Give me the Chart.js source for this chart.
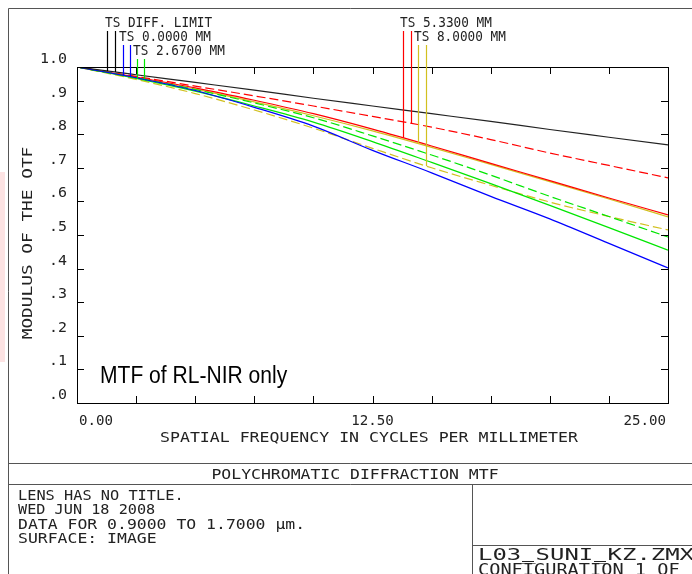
<!DOCTYPE html>
<html>
<head>
<meta charset="utf-8">
<script src="https://cdn.jsdelivr.net/npm/chart.js@4.4.1/dist/chart.umd.min.js"></script>
<style>
html, body { margin: 0; padding: 0; background: #fff; }
canvas { display: block; }
</style>
</head>
<body>
<canvas id="miGrafico" width="692" height="574"></canvas>
<script>
// Datos (frecuencia espacial en ciclos/mm)
const frecuencias = [0, 2.5, 5, 7.5, 10, 12.5, 15, 17.5, 20, 22.5, 25];

const limiteDifraccion = [1.0, 0.977, 0.954, 0.931, 0.907, 0.884, 0.861, 0.838, 0.814, 0.791, 0.768];
const campo0 = [1.0, 0.968, 0.930, 0.880, 0.824, 0.752, 0.685, 0.615, 0.548, 0.475, 0.402];
const campo267T = [1.0, 0.966, 0.928, 0.884, 0.836, 0.778, 0.716, 0.653, 0.588, 0.522, 0.455];
const campo267S = [1.0, 0.968, 0.933, 0.893, 0.849, 0.795, 0.738, 0.678, 0.615, 0.555, 0.494];
const campo533T = [1.0, 0.970, 0.938, 0.901, 0.861, 0.815, 0.765, 0.713, 0.662, 0.610, 0.560];
const campo533S = [1.0, 0.972, 0.943, 0.914, 0.884, 0.853, 0.821, 0.784, 0.744, 0.707, 0.670];
const campo800T = [1.0, 0.968, 0.934, 0.896, 0.855, 0.810, 0.761, 0.710, 0.659, 0.607, 0.554];
const campo800S = [1.0, 0.963, 0.921, 0.872, 0.818, 0.758, 0.700, 0.648, 0.598, 0.555, 0.515];

// Marcas y etiquetas de los ejes
const marcasX = [0, 2.5, 5, 7.5, 10, 12.5, 15, 17.5, 20, 22.5, 25];
const valoresEtiquetaX = [0, 12.5, 25];
const etiquetasX = ['0.00', '12.50', '25.00'];
const marcasY = [0, 0.1, 0.2, 0.3, 0.4, 0.5, 0.6, 0.7, 0.8, 0.9, 1.0];
const etiquetasY = ['.0', '.1', '.2', '.3', '.4', '.5', '.6', '.7', '.8', '.9', '1.0'];

function puntos(valores) {
    return frecuencias.map((f, i) => ({ x: f, y: valores[i] }));
}

function serie(valores, color, discontinua) {
    return {
        data: puntos(valores),
        borderColor: color,
        borderWidth: 1.2,
        borderDash: discontinua ? [9, 4] : [],
        pointRadius: 0,
        fill: false,
        cubicInterpolationMode: 'monotone'
    };
}

const AMARILLO = '#d2c020';
const VERDE = '#00e600';

// Valor interpolado de una serie en la frecuencia f
function valorEn(valores, f) {
    for (let i = 0; i < frecuencias.length - 1; i++) {
        if (f >= frecuencias[i] && f <= frecuencias[i + 1]) {
            const t = (f - frecuencias[i]) / (frecuencias[i + 1] - frecuencias[i]);
            return valores[i] + t * (valores[i + 1] - valores[i]);
        }
    }
    return valores[valores.length - 1];
}

// Texto con fuente monoespaciada estirada al ancho de caracter deseado
function texto(ctx, str, x, y, size, ancho, align, familia) {
    ctx.save();
    ctx.font = size + 'px ' + (familia || '"DejaVu Sans Mono"');
    const w = ctx.measureText(str).width;
    const total = ancho * str.length;
    let x0 = x;
    if (align === 'center') x0 = x - total / 2;
    else if (align === 'right') x0 = x - total;
    ctx.translate(x0, y);
    ctx.scale(total / w, 1);
    ctx.textAlign = 'left';
    ctx.textBaseline = 'alphabetic';
    ctx.fillText(str, 0, 0);
    ctx.restore();
    // los guiones bajos se marcan a mano para que se vean
    for (let i = 0; i < str.length; i++) {
        if (str[i] === '_') ctx.fillRect(Math.round(x0 + i * ancho + 1), Math.round(y) + 1, Math.round(ancho - 2), 1);
    }
}

const marcoZemax = {
    id: 'marcoZemax',
    beforeDraw(chart) {
        const ctx = chart.ctx;
        ctx.save();
        ctx.fillStyle = '#fff';
        ctx.fillRect(0, 0, chart.width, chart.height);
        // mancha rosada del borde izquierdo
        ctx.fillStyle = '#fde3e3';
        ctx.fillRect(0, 172, 5, 190);
        ctx.restore();
    },
    afterDatasetsDraw(chart) {
        const ctx = chart.ctx;
        const a = chart.chartArea;
        const sx = chart.scales.x;
        const sy = chart.scales.y;
        ctx.save();

        // Marco exterior
        ctx.strokeStyle = '#555';
        ctx.lineWidth = 1;
        ctx.beginPath();
        ctx.moveTo(8.5, 574); ctx.lineTo(8.5, 8.5); ctx.lineTo(692, 8.5);
        ctx.moveTo(8.5, 463.5); ctx.lineTo(692, 463.5);
        ctx.moveTo(8.5, 484.5); ctx.lineTo(692, 484.5);
        ctx.moveTo(472.5, 484.5); ctx.lineTo(472.5, 574);
        ctx.moveTo(472.5, 545.5); ctx.lineTo(692, 545.5);
        ctx.stroke();

        // Caja de la grafica
        ctx.strokeStyle = '#000';
        ctx.strokeRect(Math.round(a.left) + 0.5, Math.round(a.top) + 0.5,
            Math.round(a.right - a.left), Math.round(a.bottom - a.top));

        // Marcas hacia dentro
        ctx.beginPath();
        marcasX.forEach(v => {
            const px = Math.round(sx.getPixelForValue(v)) + 0.5;
            ctx.moveTo(px, a.bottom); ctx.lineTo(px, a.bottom - 7);
            ctx.moveTo(px, a.top); ctx.lineTo(px, a.top + 7);
        });
        marcasY.forEach(v => {
            const py = Math.round(sy.getPixelForValue(v)) + 0.5;
            ctx.moveTo(a.left, py); ctx.lineTo(a.left + 7, py);
            ctx.moveTo(a.right, py); ctx.lineTo(a.right - 7, py);
        });
        ctx.stroke();

        ctx.fillStyle = '#222';
        // Etiquetas del eje Y
        marcasY.forEach((v, i) => {
            texto(ctx, etiquetasY[i], 67, sy.getPixelForValue(v) - 4, 14, 9, 'right');
        });
        // Etiquetas del eje X
        valoresEtiquetaX.forEach((v, i) => {
            const px = sx.getPixelForValue(v);
            const al = i === 0 ? 'left' : (i === valoresEtiquetaX.length - 1 ? 'right' : 'center');
            texto(ctx, etiquetasX[i], al === 'left' ? px + 2 : (al === 'right' ? px - 2 : px), 425, 14, 8.5, al);
        });
        texto(ctx, 'SPATIAL FREQUENCY IN CYCLES PER MILLIMETER', 369, 442, 14, 9.95, 'center');

        // Titulo vertical
        ctx.save();
        ctx.translate(32, 243);
        ctx.rotate(-Math.PI / 2);
        texto(ctx, 'MODULUS OF THE OTF', 0, 0, 14, 10.7, 'center');
        ctx.restore();

        // Leyenda con lineas verticales
        const leyenda = [
            { txt: 'TS DIFF. LIMIT', x: 105, base: 27, top: 31, color: '#000', f: [1.27, 1.61], s: [limiteDifraccion, limiteDifraccion] },
            { txt: 'TS 0.0000 MM', x: 119, base: 41, top: 45, color: '#0000ff', f: [1.95, 2.24], s: [campo0, campo0] },
            { txt: 'TS 2.6700 MM', x: 133, base: 55, top: 59, color: VERDE, f: [2.54, 2.83], s: [campo267T, campo267S] },
            { txt: 'TS 5.3300 MM', x: 400, base: 27, top: 31, color: '#ff0000', f: [13.79, 14.13], s: [campo533T, campo533S] },
            { txt: 'TS 8.0000 MM', x: 414, base: 41, top: 45, color: AMARILLO, f: [14.42, 14.76], s: [campo800T, campo800S] }
        ];
        leyenda.forEach(l => {
            ctx.fillStyle = '#222';
            texto(ctx, l.txt, l.x, l.base, 14, 7.65, 'left');
            ctx.strokeStyle = l.color;
            ctx.lineWidth = 1.2;
            ctx.beginPath();
            l.f.forEach((f, k) => {
                const px = Math.round(sx.getPixelForValue(f)) + 0.5;
                ctx.moveTo(px, l.top);
                ctx.lineTo(px, sy.getPixelForValue(valorEn(l.s[k], f)));
            });
            ctx.stroke();
        });

        // Nota dentro de la grafica
        ctx.fillStyle = '#000';
        texto(ctx, 'MTF of RL-NIR only', 100, 383, 23, 10.4, 'left', '"Liberation Sans", Arial, sans-serif');

        // Bloque de titulo
        ctx.fillStyle = '#222';
        texto(ctx, 'POLYCHROMATIC DIFFRACTION MTF', 355, 479, 14, 9.9, 'center');
        texto(ctx, 'LENS HAS NO TITLE.', 18, 500, 14, 9.2, 'left');
        texto(ctx, 'WED JUN 18 2008', 18, 514, 14, 9.15, 'left');
        texto(ctx, 'DATA FOR 0.9000 TO 1.7000 \u00b5m.', 18, 529, 14, 9.9, 'left');
        texto(ctx, 'SURFACE: IMAGE', 18, 543, 14, 9.9, 'left');
        texto(ctx, 'L03_SUNI_KZ.ZMX', 478, 560, 16, 14.4, 'left');
        texto(ctx, 'CONFIGURATION 1 OF 1', 478, 575, 15, 11.2, 'left');

        ctx.restore();
    }
};

const ctx = document.getElementById('miGrafico').getContext('2d');
const miGrafico = new Chart(ctx, {
    type: 'line',
    data: {
        datasets: [
            serie(limiteDifraccion, '#222222', false),
            serie(campo0, '#0000ff', false),
            serie(campo267T, VERDE, false),
            serie(campo267S, VERDE, true),
            serie(campo533T, '#ff0000', false),
            serie(campo533S, '#ff0000', true),
            serie(campo800T, AMARILLO, false),
            serie(campo800S, AMARILLO, true)
        ]
    },
    options: {
        responsive: false,
        animation: false,
        devicePixelRatio: 1,
        layout: { padding: { left: 77, top: 67, right: 24, bottom: 171 } },
        plugins: { legend: { display: false }, tooltip: { enabled: false } },
        scales: {
            x: { type: 'linear', min: 0, max: 25, display: false },
            y: { type: 'linear', min: 0, max: 1, display: false }
        }
    },
    plugins: [marcoZemax]
});
</script>
</body>
</html>
